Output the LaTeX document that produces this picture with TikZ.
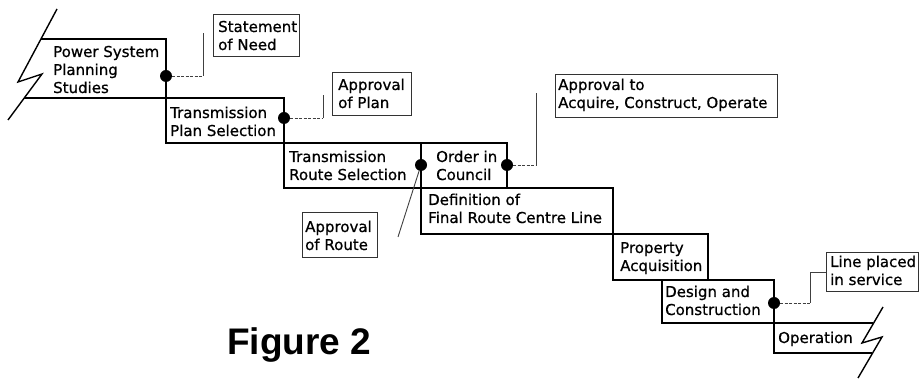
\documentclass[tikz,border=0pt]{standalone}
\usepackage{fontspec}
\setmainfont{DejaVu Sans}
\newfontfamily\boxfont{DejaVu Sans}[FakeBold=0.7]
\newfontfamily\figfont{Liberation Sans}
\newcommand\mylines[1]{\begin{tabular}[t]{@{}l@{}}#1\end{tabular}}
\begin{document}
\begin{tikzpicture}[x=1pt,y=-1pt,
  stair/.style={line width=1.8pt, line join=miter},
  brk/.style={line width=1.4pt},
  annot/.style={line width=1pt, draw=black!80},
  lbl/.style={anchor=base west, inner sep=0pt, font=\boxfont\fontsize{15}{18}\selectfont},
  dot/.style={circle, fill=black, inner sep=0pt, minimum size=12pt},
  lead/.style={line width=0.9pt, draw=black!75},
  leaddash/.style={lead, dash pattern=on 3pt off 1.5pt},
  ]
\fill[white] (0,0) rectangle (919,379);
\useasboundingbox (0,0) rectangle (919,379);

% stair boxes
\draw[stair] (41,39) -- (166,39) -- (166,98);
\draw[stair] (24,98) -- (166,98);
\draw[stair] (166,98) rectangle (284,143);
\draw[stair] (284,143) rectangle (421,188);
\draw[stair] (421,143) rectangle (507,188);
\draw[stair] (421,188) rectangle (613,234);
\draw[stair] (613,234) rectangle (708,280);
\draw[stair] (662,280) rectangle (774,323);
\draw[stair] (873,323) -- (774,323) -- (774,353) -- (872,353);

% break marks
\draw[brk] (57,9) -- (18,82) -- (42,74) -- (8,120);
\draw[brk] (883,307) -- (862,343) -- (882,337) -- (858,378);

% stair texts
\node[lbl] (t1) at (53,57) {\mylines{Power System\\Planning\\Studies}};
\node[lbl] (t2) at (170,118) {\mylines{Transmission\\Plan Selection}};
\node[lbl] (t3) at (289,162) {\mylines{Transmission\\Route Selection}};
\node[lbl] (t4) at (436,162) {\mylines{Order in\\Council}};
\node[lbl] (t5) at (428,205) {\mylines{Definition of\\Final Route Centre Line}};
\node[lbl] (t6) at (620,253) {\mylines{Property\\Acquisition}};
\node[lbl] (t7) at (665,297) {\mylines{Design and\\Construction}};
\node[lbl] (t8) at (778,343) {Operation};

% annotation boxes
\draw[annot] (213,15) rectangle (299,57);
\draw[annot] (332,73) rectangle (411,116);
\draw[annot] (555,75) rectangle (777,118);
\draw[annot] (302,213) rectangle (377,258);
\draw[annot] (826,253) rectangle (918,292);
\node[lbl] (a1) at (218,32) {\mylines{Statement\\of Need}};
\node[lbl] (a2) at (338,90) {\mylines{Approval\\of Plan}};
\node[lbl] (a3) at (558,90) {\mylines{Approval to\\Acquire, Construct, Operate}};
\node[lbl] (a4) at (305,232) {\mylines{Approval\\of Route}};
\node[lbl] (a5) at (830,267) {\mylines{Line placed\\in service}};

% milestone dots
\node[dot] (d1) at (166,76) {};
\node[dot] (d2) at (284,118) {};
\node[dot] (d3) at (421,165) {};
\node[dot] (d4) at (507,165) {};
\node[dot] (d5) at (774,303) {};

% lead ends
\coordinate (c1a) at (203,76);
\coordinate (c1b) at (203,33);
\coordinate (c2a) at (323,118);
\coordinate (c2b) at (323,95);
\coordinate (c3) at (398,237);
\coordinate (c4a) at (536,165);
\coordinate (c4b) at (536,93);
\coordinate (c5a) at (810,303);
\coordinate (c5b) at (810,272);
\coordinate (c5c) at (826,272);

\draw[leaddash] (d1) -- (c1a);
\draw[lead] (c1a) -- (c1b);
\draw[leaddash] (d2) -- (c2a);
\draw[lead] (c2a) -- (c2b);
\draw[lead] (d3) -- (c3);
\draw[leaddash] (d4) -- (c4a);
\draw[lead] (c4a) -- (c4b);
\draw[leaddash] (d5) -- (c5a);
\draw[lead] (c5a) -- (c5b) -- (c5c);

% caption
\node[anchor=base west, inner sep=0pt, font=\figfont\bfseries\fontsize{37}{40}\selectfont] (fig) at (227,355) {Figure 2};
\end{tikzpicture}
\end{document}
